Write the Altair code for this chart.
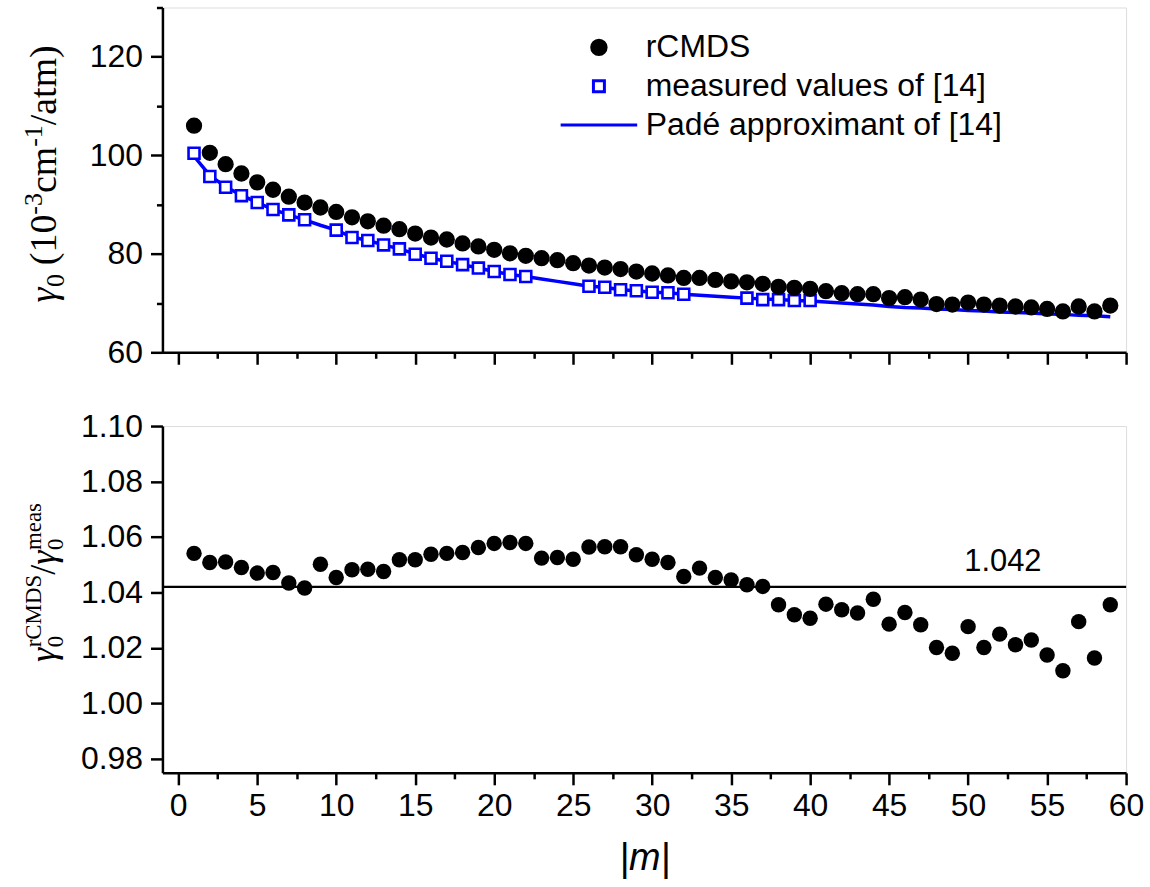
import altair as alt
import pandas as pd

# ---------------- data ----------------
m_all = list(range(1, 60))

rcmds = [106.0, 100.5, 98.2, 96.3, 94.5, 93.0, 91.6, 90.4, 89.4, 88.5,
         87.4, 86.6, 85.7, 85.0, 84.1, 83.3, 82.9, 82.1, 81.5, 80.8,
         80.1, 79.6, 79.1, 78.7, 78.1, 77.6, 77.2, 76.9, 76.4, 76.0,
         75.6, 75.1, 75.1, 74.7, 74.4, 74.2, 73.9, 73.3, 73.1, 72.9,
         72.4, 72.0, 71.8, 71.8, 71.0, 71.2, 70.7, 69.8, 69.7, 70.1,
         69.7, 69.5, 69.3, 69.1, 68.8, 68.3, 69.3, 68.3, 69.5]

m_meas = [1, 2, 3, 4, 5, 6, 7, 8, 10, 11, 12, 13, 14, 15, 16, 17, 18, 19, 20,
          21, 22, 26, 27, 28, 29, 30, 31, 32, 36, 37, 38, 39, 40]
meas = [100.4, 95.7, 93.5, 91.8, 90.4, 89.0, 87.9, 86.9, 84.8, 83.3, 82.7,
        81.8, 81.0, 79.9, 79.1, 78.5, 77.8, 77.1, 76.4, 75.8, 75.4, 73.4,
        73.2, 72.7, 72.5, 72.2, 72.1, 71.8, 71.0, 70.7, 70.7, 70.5, 70.5]

pade = [99.8, 95.9, 93.6, 91.9, 90.4, 89.0, 87.9, 86.9, 85.8, 84.8,
        83.4, 82.7, 81.8, 81.0, 80.0, 79.1, 78.5, 77.8, 77.1, 76.4,
        75.8, 75.4, 74.9, 74.4, 73.9, 73.4, 73.2, 72.7, 72.5, 72.2,
        72.1, 71.8, 71.6, 71.4, 71.2, 71.0, 70.8, 70.7, 70.5, 70.4,
        70.2, 70.0, 69.8, 69.6, 69.3, 69.1, 69.0, 68.8, 68.7, 68.5,
        68.4, 68.2, 68.1, 68.0, 67.8, 67.7, 67.5, 67.4, 67.2]

ratio = [1.0541, 1.0508, 1.0510, 1.0490, 1.0470, 1.0472, 1.0434, 1.0416, 1.0502, 1.0454,
         1.0482, 1.0484, 1.0476, 1.0518, 1.0518, 1.0538, 1.0541, 1.0544, 1.0562, 1.0577,
         1.0580, 1.0577, 1.0524, 1.0526, 1.0520, 1.0564, 1.0565, 1.0565, 1.0536, 1.0520,
         1.0508, 1.0458, 1.0488, 1.0454, 1.0445, 1.0428, 1.0422, 1.0356, 1.0320, 1.0307,
         1.0358, 1.0338, 1.0326, 1.0376, 1.0286, 1.0328, 1.0284, 1.0202, 1.0181, 1.0277,
         1.0202, 1.0250, 1.0212, 1.0229, 1.0175, 1.0118, 1.0295, 1.0164, 1.0356]

mean_ratio = [1.042]
mean_label_m = [52.2]

series_names = ["rCMDS", "measured values of [14]", "Padé approximant of [14]"]

x_ticks = [i * 2.5 for i in range(25)]
top_y_ticks = [60, 70, 80, 90, 100, 110, 120, 130]
bot_y_ticks = [round(0.98 + 0.01 * i, 2) for i in range(13)]

# ---------------- frames ----------------
df_pts = pd.DataFrame({"m": m_all, "v": rcmds, "series": series_names[0]})
df_sq = pd.DataFrame({"m": m_meas, "v": meas, "series": series_names[1]})
df_ln = pd.DataFrame({"m": m_all, "v": pade, "series": series_names[2]})
df_ratio = pd.DataFrame({"m": m_all, "r": ratio})
df_mean = pd.DataFrame({"r": mean_ratio, "m": mean_label_m})

SANS = "Liberation Sans"
SERIF = "Liberation Serif"

W, H_TOP, H_BOT = 967, 346, 348

x_scale = alt.Scale(domain=[-1, 60], nice=False, zero=False)
top_y_scale = alt.Scale(domain=[60, 130], nice=False, zero=False)
bot_y_scale = alt.Scale(domain=[0.975, 1.10], nice=False, zero=False)

common_axis = dict(grid=False, domainColor="black", domainWidth=2.5,
                   tickColor="black", tickWidth=2.5, labelColor="black",
                   labelFont=SANS, labelOverlap=False, labelFlush=False,
                   titleColor="black")


def cond(test, yes, no):
    return {"condition": {"test": test, "value": yes}, "value": no}


X_MAJOR = "datum.value % 5 === 0"
TY_MAJOR = "datum.value % 20 === 0"
BY_MAJOR = "round(datum.value * 100) % 2 === 0"

top_x_axis = alt.Axis(values=x_ticks, labels=False, title=None,
                      tickSize=cond(X_MAJOR, 12, 6), **common_axis)
bot_x_axis = alt.Axis(values=x_ticks, title="|m|",
                      labelExpr=f"{X_MAJOR} ? datum.label : ''",
                      labelFontSize=cond(X_MAJOR, 32, 0), labelPadding=6,
                      titleFont=SANS, titleFontSize=38, titleFontStyle="italic",
                      titleFontWeight="normal", titlePadding=18,
                      tickSize=cond(X_MAJOR, 12, 6), **common_axis)

top_y_axis = alt.Axis(values=top_y_ticks, title=None,
                      labelExpr=f"{TY_MAJOR} ? datum.label : ''",
                      labelFontSize=cond(TY_MAJOR, 32, 0), labelPadding=8,
                      tickSize=cond(TY_MAJOR, 12, 6), **common_axis)
bot_y_axis = alt.Axis(values=bot_y_ticks, format=".2f", title=None,
                      labelExpr=f"{BY_MAJOR} ? datum.label : ''",
                      labelFontSize=cond(BY_MAJOR, 32, 0), labelPadding=8,
                      tickSize=cond(BY_MAJOR, 12, 6), **common_axis)

# ---------------- rotated y titles built from text pieces ----------------
CHAR_W = {"γ": 0.41, "(": 0.333, ")": 0.333, "/": 0.278, "a": 0.444,
          "c": 0.444, "e": 0.444, "m": 0.778, "s": 0.389, "t": 0.278, "r": 0.333,
          "C": 0.667, "M": 0.889, "D": 0.722, "S": 0.556, "-": 0.333}


def text_w(t, fs):
    return sum(CHAR_W.get(ch, 0.5) for ch in t) * fs


def rotated_title(pieces, base_x, center_y):
    """pieces: (text, fontsize, baseline shift, italic, advances, extra gap after)"""
    total = sum((text_w(t, fs) if adv else 0) + gap for t, fs, sh, it, adv, gap in pieces)
    y = center_y + total / 2
    layers = []
    for t, fs, sh, it, adv, gap in pieces:
        layers.append(
            alt.Chart(pd.DataFrame({"k": [0]})).mark_text(
                text=t, font=SERIF, fontSize=fs, angle=270, align="left",
                baseline="alphabetic", color="black",
                fontStyle="italic" if it else "normal",
            ).encode(x=alt.value(base_x + sh), y=alt.value(y))
        )
        if adv:
            y -= text_w(t, fs)
        y -= gap
    return layers


F, f = 38, 26
top_title = rotated_title([
    ("γ", F, 0, True, True, 0),
    ("0", f, 8, False, True, 9),
    ("(10", F, 0, False, True, 0),
    ("-3", f, -14, False, True, 0),
    ("cm", F, 0, False, True, 0),
    ("-1", f, -14, False, True, 0),
    ("/atm)", F, 0, False, True, 0),
], base_x=-107, center_y=167)

F2, f2 = 36, 23
bot_title = rotated_title([
    ("γ", F2, 0, True, True, 0),
    ("0", f2, 8, False, False, 0),
    ("rCMDS", f2, -14, False, True, 0),
    ("/", F2, 0, False, True, 0),
    ("γ", F2, 0, True, True, 0),
    ("0", f2, 8, False, False, 0),
    ("meas", f2, -14, False, True, 0),
], base_x=-108, center_y=157)

# ---------------- legend via scales ----------------
legend = alt.Legend(title=None, orient="none", legendX=422, legendY=24,
                    labelFont=SANS, labelFontSize=32, labelColor="black",
                    labelLimit=0, symbolStrokeWidth=3, symbolSize=210,
                    rowPadding=7, labelOffset=31, padding=0, symbolOpacity=1)

SQUARE = "M-0.76,-0.76H0.76V0.76H-0.76Z"
LINE = "M-5.3,0H5.3"
stroke_scale = alt.Scale(domain=series_names, range=["black", "blue", "blue"])
fill_scale = alt.Scale(domain=series_names, range=["black", "white", "blue"])
shape_scale = alt.Scale(domain=series_names, range=["circle", SQUARE, LINE])

X = alt.X("m:Q", scale=x_scale, axis=top_x_axis)
Y = alt.Y("v:Q", scale=top_y_scale, axis=top_y_axis)

line = alt.Chart(df_ln).mark_line(strokeWidth=3.5).encode(
    x=X, y=Y,
    stroke=alt.Stroke("series:N", scale=stroke_scale, legend=legend),
)
squares = alt.Chart(df_sq).mark_point(strokeWidth=2.6, opacity=1, size=210).encode(
    x=X, y=Y,
    stroke=alt.Stroke("series:N", scale=stroke_scale, legend=legend),
    fill=alt.Fill("series:N", scale=fill_scale, legend=legend),
    shape=alt.Shape("series:N", scale=shape_scale, legend=legend),
)
circles = alt.Chart(df_pts).mark_point(strokeWidth=1.5, opacity=1, size=220).encode(
    x=X, y=Y,
    stroke=alt.Stroke("series:N", scale=stroke_scale, legend=legend),
    fill=alt.Fill("series:N", scale=fill_scale, legend=legend),
    shape=alt.Shape("series:N", scale=shape_scale, legend=legend),
)

top = alt.layer(line, squares, circles, *top_title).properties(width=W, height=H_TOP)

XB = alt.X("m:Q", scale=x_scale, axis=bot_x_axis)
bot_pts = alt.Chart(df_ratio).mark_point(filled=True, shape="circle", size=240,
                                         color="black", opacity=1).encode(
    x=XB, y=alt.Y("r:Q", scale=bot_y_scale, axis=bot_y_axis)
)
rule = alt.Chart(df_mean).mark_rule(color="black", strokeWidth=2.2).encode(
    y=alt.Y("r:Q", scale=bot_y_scale)
)
label = alt.Chart(df_mean).mark_text(font=SANS, fontSize=31, color="black",
                                     baseline="bottom", dy=-9).encode(
    x=alt.X("m:Q", scale=x_scale),
    y=alt.Y("r:Q", scale=bot_y_scale),
    text=alt.Text("r:Q", format=".3f"),
)
bottom = alt.layer(rule, bot_pts, label, *bot_title).properties(width=W, height=H_BOT)

chart = alt.vconcat(top, bottom, spacing=40).resolve_scale(
    stroke="independent", fill="independent", shape="independent"
).configure_view(
    stroke="black", strokeWidth=2.5
).configure(
    padding={"left": 20, "top": 4, "right": 5, "bottom": 2},
    background="white",
)

chart.save("out.html", embed_options={"renderer": "svg", "actions": False})
